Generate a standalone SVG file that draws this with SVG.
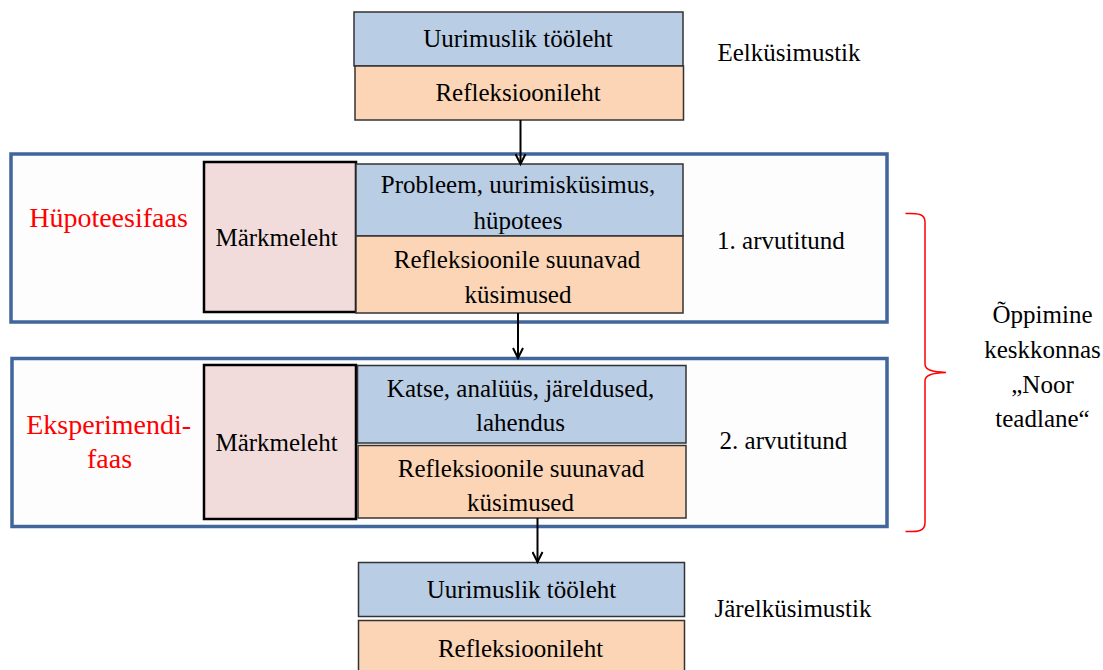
<svg xmlns="http://www.w3.org/2000/svg" width="1103" height="670" viewBox="0 0 1103 670">
<defs>
<style>
text{font-family:"Liberation Serif","Times New Roman",serif;font-size:25px;fill:#000;text-anchor:middle}
.red{fill:#ff0000;font-size:28px}
.blue{fill:#b9cde5;stroke:#333;stroke-width:1.5}
.orange{fill:#fbd5b5;stroke:#333;stroke-width:1.5}
.pink{fill:#f2dcdb;stroke:#000;stroke-width:2.5}
.phase{fill:#fdfdfd;stroke:#41669b;stroke-width:3.5}
.conn{stroke:#000;stroke-width:2;fill:none}
</style>
<marker id="arr" markerWidth="14" markerHeight="12" refX="11" refY="6" orient="auto" markerUnits="userSpaceOnUse">
<path d="M1,1 L11,6 L1,11" fill="none" stroke="#000" stroke-width="2"/>
</marker>
</defs>
<rect width="1103" height="670" fill="#fff"/>

<g id="phase1">
<rect class="phase" x="11" y="154" width="876" height="168"/>
<text class="red" x="108.5" y="227">Hüpoteesifaas</text>
<text x="781" y="249">1. arvutitund</text>
</g>
<g id="phase2">
<rect class="phase" x="12" y="358.5" width="875" height="168"/>
<text class="red" x="108.7" y="434">Eksperimendi-</text>
<text class="red" x="109.5" y="467.5">faas</text>
<text x="783.5" y="449">2. arvutitund</text>
</g>

<g id="top-uurimuslik">
<rect class="blue" x="354" y="12" width="329" height="54"/>
<text x="518" y="47">Uurimuslik tööleht</text>
</g>
<g id="top-refleksioonileht">
<rect class="orange" x="355" y="66" width="328.5" height="54"/>
<text x="518" y="101">Refleksioonileht</text>
</g>
<g id="eelkusimustik">
<text x="789" y="61">Eelküsimustik</text>
</g>

<g id="markmeleht1">
<rect class="pink" x="204" y="162" width="152" height="150"/>
<text x="276.5" y="246">Märkmeleht</text>
</g>
<g id="probleem">
<rect class="blue" x="356" y="164" width="327" height="72"/>
<text x="518" y="193">Probleem, uurimisküsimus,</text>
<text x="518" y="229">hüpotees</text>
</g>
<g id="refl1">
<rect class="orange" x="356" y="236" width="327" height="77"/>
<text x="517" y="268">Refleksioonile suunavad</text>
<text x="518" y="303">küsimused</text>
</g>

<g id="markmeleht2">
<rect class="pink" x="204" y="365" width="152" height="154"/>
<text x="276.5" y="451">Märkmeleht</text>
</g>
<g id="katse">
<rect class="blue" x="357.5" y="365.5" width="328.5" height="77.5"/>
<text x="520.5" y="397">Katse, analüüs, järeldused,</text>
<text x="520.5" y="431">lahendus</text>
</g>
<g id="refl2">
<rect class="orange" x="358" y="445.5" width="328" height="72.5"/>
<text x="521" y="477">Refleksioonile suunavad</text>
<text x="520.5" y="511">küsimused</text>
</g>

<g id="bottom-uurimuslik">
<rect class="blue" x="358.5" y="562.5" width="326" height="54"/>
<text x="521.5" y="598">Uurimuslik tööleht</text>
</g>
<g id="bottom-refleksioonileht">
<rect class="orange" x="358.5" y="620.5" width="326" height="54"/>
<text x="520.5" y="657">Refleksioonileht</text>
</g>
<g id="jarelkusimustik">
<text x="793" y="617">Järelküsimustik</text>
</g>

<g id="learning">
<path d="M905.5,213.5 C918,213 925,214 925,222 L925,364 C925,370 932,372 946,372.5 C932,373 925,375 925,381 L925,523 C925,531 918,532 905.5,531.5" fill="none" stroke="#ff0000" stroke-width="1.5"/>
<text x="1042.5" y="323">Õppimine</text>
<text x="1042.5" y="358">keskkonnas</text>
<text x="1042.5" y="393">„Noor</text>
<text x="1042.5" y="427">teadlane“</text>
</g>

<g id="connectors">
<line class="conn" x1="520.5" y1="120" x2="520.5" y2="164" marker-end="url(#arr)"/>
<line class="conn" x1="518" y1="313" x2="518" y2="358" marker-end="url(#arr)"/>
<line class="conn" x1="537.5" y1="518" x2="537.5" y2="562" marker-end="url(#arr)"/>
</g>
</svg>
